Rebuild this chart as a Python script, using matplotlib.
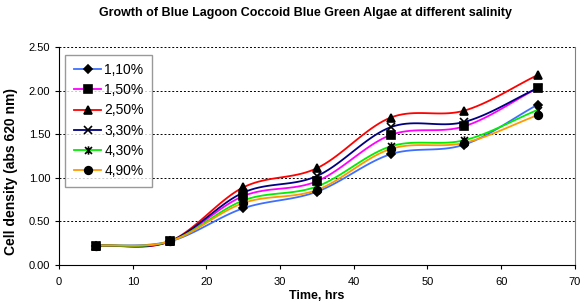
import numpy as np
import matplotlib
matplotlib.use('Agg')
import matplotlib.pyplot as plt
from matplotlib.path import Path

plt.rcParams['font.family'] = ['Liberation Sans', 'DejaVu Sans']

time_hrs = [5, 15, 25, 35, 45, 55, 65]
labels = ['1,10%', '1,50%', '2,50%', '3,30%', '4,30%', '4,90%']
s110 = [0.22, 0.27, 0.65, 0.84, 1.27, 1.38, 1.84]
s150 = [0.22, 0.27, 0.79, 0.96, 1.49, 1.59, 2.03]
s250 = [0.22, 0.27, 0.89, 1.11, 1.69, 1.77, 2.18]
s330 = [0.22, 0.27, 0.83, 1.02, 1.58, 1.64, 2.03]
s430 = [0.22, 0.27, 0.74, 0.90, 1.36, 1.43, 1.78]
s490 = [0.22, 0.27, 0.71, 0.86, 1.33, 1.40, 1.72]
series = [s110, s150, s250, s330, s430, s490]
colors = ['#3f6fff', '#ff00ff', '#ff0000', '#000080', '#00ee00', '#ff9900']

# excel style "star" marker: an x with a vertical stroke
star = Path([(-1, -1), (1, 1), (-1, 1), (1, -1), (0, -1.2), (0, 1.2)],
            [Path.MOVETO, Path.LINETO, Path.MOVETO, Path.LINETO, Path.MOVETO, Path.LINETO])
markers = ['D', 's', '^', 'x', star, 'o']
msizes = [4.5, 5.5, 5.5, 5.5, 6, 5.5]
mzorder = [3, 5, 4, 3, 3, 3]


def smooth(x, y, n=20):
    # Excel-like smoothed line (Catmull-Rom through the points)
    x = np.asarray(x, float)
    y = np.asarray(y, float)
    px = np.concatenate([[2 * x[0] - x[1]], x, [2 * x[-1] - x[-2]]])
    py = np.concatenate([[2 * y[0] - y[1]], y, [2 * y[-1] - y[-2]]])
    xs, ys = [], []
    t = np.linspace(0, 1, n)
    for i in range(1, len(px) - 2):
        for p, out in ((px, xs), (py, ys)):
            p0, p1, p2, p3 = p[i - 1], p[i], p[i + 1], p[i + 2]
            out.extend(0.5 * ((2 * p1) + (-p0 + p2) * t
                              + (2 * p0 - 5 * p1 + 4 * p2 - p3) * t ** 2
                              + (-p0 + 3 * p1 - 3 * p2 + p3) * t ** 3))
    return xs, ys


fig = plt.figure(figsize=(5.8, 3.07), dpi=100)
ax = fig.add_axes([0.102, 0.137, 0.889, 0.71])

for vals, lab, c, m, ms, z in zip(series, labels, colors, markers, msizes, mzorder):
    sx, sy = smooth(time_hrs, vals)
    ax.plot(sx, sy, color=c, lw=1.3, zorder=2)
    ax.plot(time_hrs, vals, ls='none', marker=m, ms=ms, color='black',
            mec='black', mew=1.2, zorder=z)
    ax.plot([], [], color=c, lw=1.3, marker=m, ms=ms, mfc='black',
            mec='black', mew=1.2, label=lab)

ax.set_xlim(0, 70)
ax.set_ylim(0, 2.5)
ax.set_xticks(range(0, 71, 10))
ax.set_yticks(np.arange(0, 2.51, 0.5))
ax.set_yticklabels(['%.2f' % v for v in np.arange(0, 2.51, 0.5)])
ax.tick_params(labelsize=8, direction='out', length=3, width=0.8)
ax.tick_params(axis='x', pad=6)
for y in [0.5, 1.0, 1.5, 2.0, 2.5]:
    ax.axhline(y, color='black', lw=0.7, ls=(0, (2, 2)), zorder=0)
ax.spines['top'].set_visible(False)
ax.spines['right'].set_color('#808080')

ax.set_title('Growth of Blue Lagoon Coccoid Blue Green Algae at different salinity',
             fontsize=9, fontweight='bold', pad=22, x=0.477)
ax.set_ylabel('Cell density (abs 620 nm)', fontsize=10, fontweight='bold')
ax.yaxis.set_label_coords(-0.079, 0.43)
ax.set_xlabel('Time, hrs', fontsize=9, fontweight='bold', labelpad=2)

leg = ax.legend(loc='upper left', bbox_to_anchor=(0.012, 0.965), fontsize=10,
                frameon=True, fancybox=False, edgecolor='#808080',
                handlelength=2.0, handletextpad=0.2, labelspacing=0.45,
                borderpad=0.6, borderaxespad=0)
leg.get_frame().set_linewidth(1.0)

fig.savefig('out.png', dpi=100)
